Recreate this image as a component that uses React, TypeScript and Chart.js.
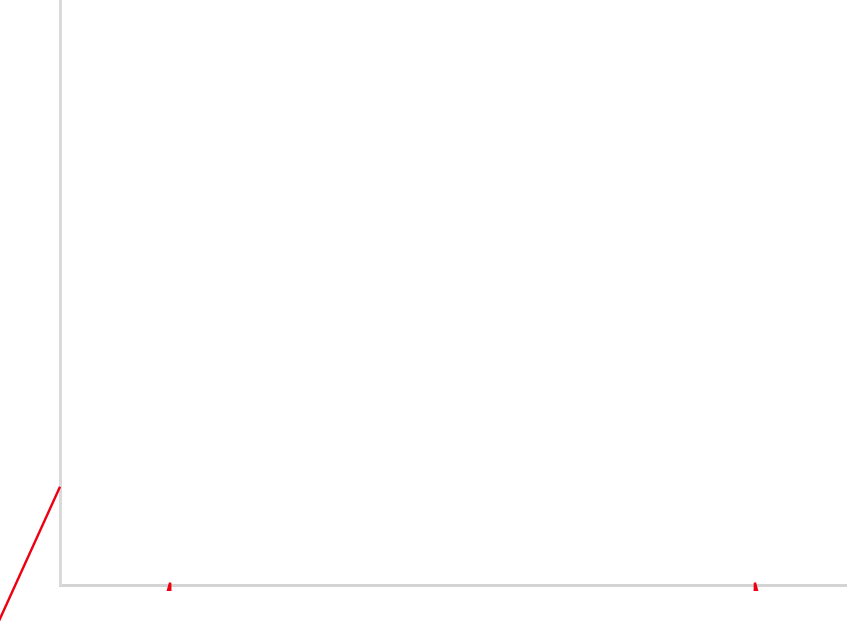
import { useEffect, useRef } from 'react';
import { Chart, registerables } from 'chart.js';

Chart.register(...registerables);

// left series: only the part running off the plot to the left is visible
const leftX = [-1, 0];
const leftY = [-12.8, 16.8];

// bottom series: stays under the plot, only two peaks poke through the axis
const lowX = [0.9, 1.4, 1.6, 8.6, 8.83, 9.3];
const lowY = [-23, 0.4, -200, -200, 0.4, -23];

const xRange = [0, 10];
const yRange = [0, 100];

export default function App() {
  const chartRef = useRef<HTMLCanvasElement>(null);
  const chartInstance = useRef<Chart | null>(null);

  useEffect(() => {
    if (!chartRef.current) return;
    if (chartInstance.current) chartInstance.current.destroy();

    chartInstance.current = new Chart(chartRef.current, {
      type: 'line',
      data: {
        datasets: [
          {
            label: 'A',
            data: leftX.map((x, i) => ({ x, y: leftY[i] })),
            borderColor: '#ee0011',
            borderWidth: 2.4,
            pointRadius: 0,
            clip: false as any,
          },
          {
            label: 'B',
            data: lowX.map((x, i) => ({ x, y: lowY[i] })),
            borderColor: '#ee0011',
            borderWidth: 2.4,
            borderJoinStyle: 'bevel',
            pointRadius: 0,
            clip: { left: 0, top: 0, right: 0, bottom: 6 } as any,
          },
        ],
      },
      options: {
        responsive: true,
        maintainAspectRatio: false,
        animation: false,
        layout: { padding: { left: 60, right: 0, top: 0, bottom: 36 } },
        scales: {
          x: {
            type: 'linear',
            min: xRange[0],
            max: xRange[1],
            grid: { display: false, drawTicks: false },
            border: { color: '#d4d4d4', width: 3 },
            ticks: { display: false },
          },
          y: {
            type: 'linear',
            min: yRange[0],
            max: yRange[1],
            grid: { display: false, drawTicks: false },
            border: { color: '#dadada', width: 3 },
            ticks: { display: false },
          },
        },
        plugins: {
          legend: { display: false },
          tooltip: { enabled: false },
        },
      },
    });

    return () => { chartInstance.current?.destroy(); };
  }, []);

  return (
    <div style={{ position: 'fixed', left: 0, top: 0, width: 847, height: 621, background: '#fff' }}>
      <canvas ref={chartRef} />
    </div>
  );
}
